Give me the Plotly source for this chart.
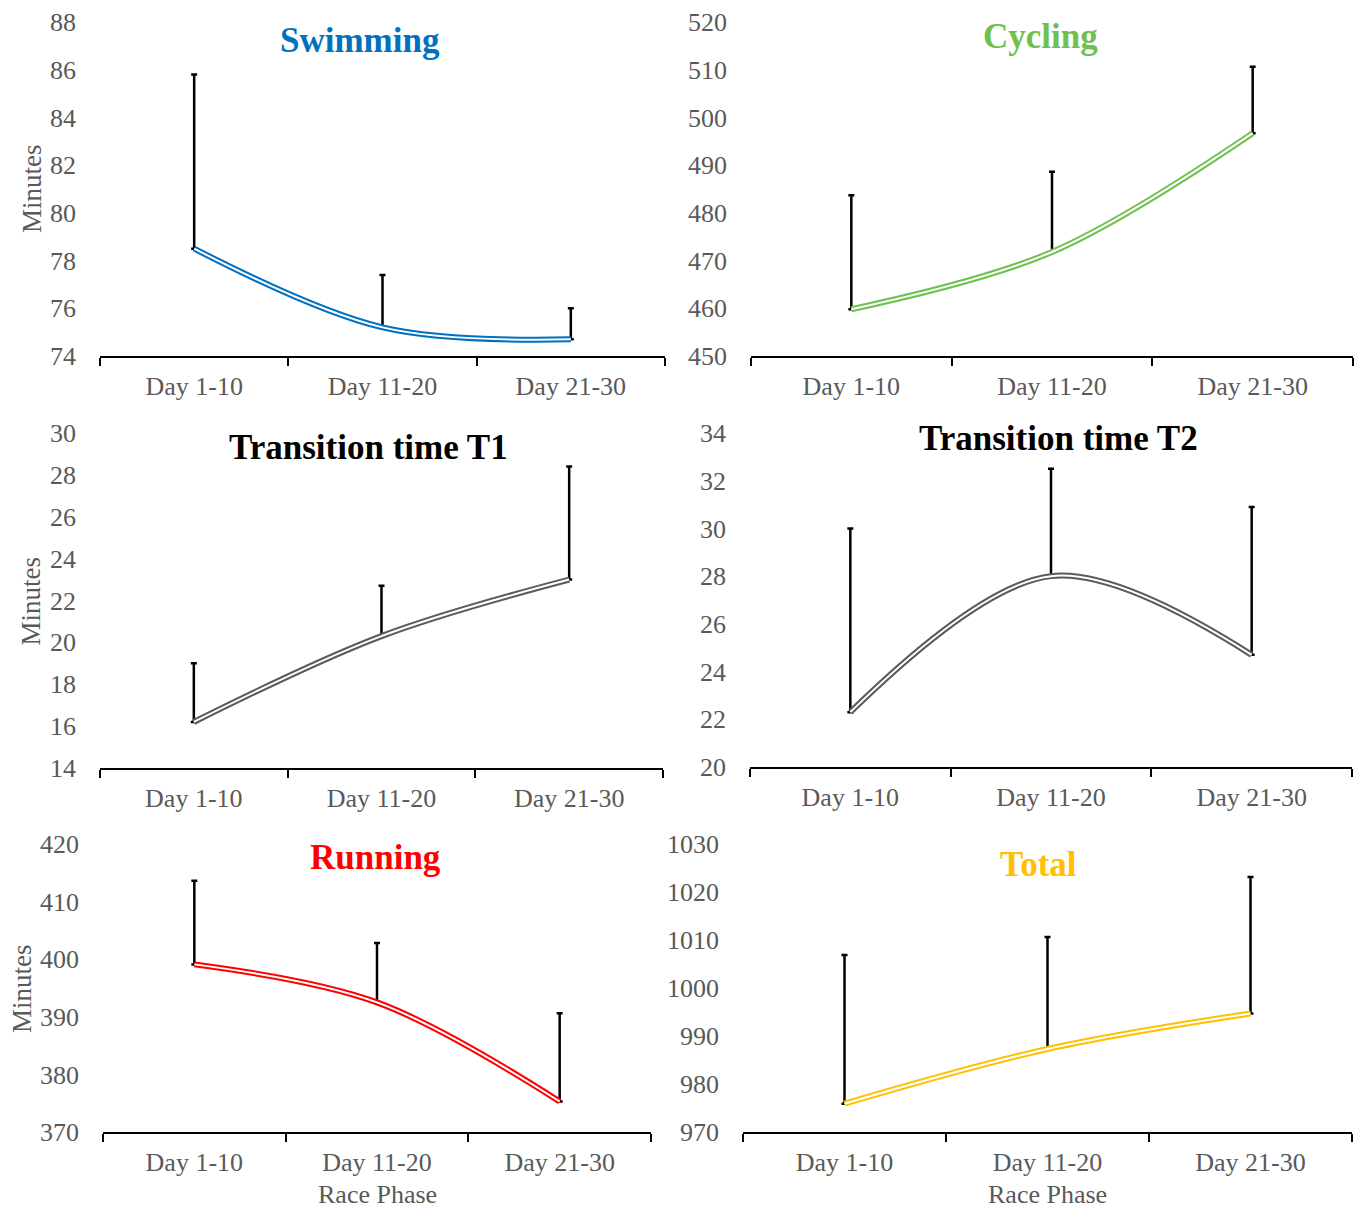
import plotly.graph_objects as go

W, H = 1355, 1211

# ---- data -------------------------------------------------------------
phases = ["Day 1-10", "Day 11-20", "Day 21-30"]

swim_mean = [78.5, 75.2, 74.7]
swim_sd = [7.3, 2.2, 1.3]

cycle_mean = [459.8, 471.8, 496.7]
cycle_sd = [23.9, 16.8, 13.9]

t1_mean = [16.2, 20.3, 23.0]
t1_sd = [2.8, 2.4, 5.4]

t2_mean = [22.3, 28.0, 24.7]
t2_sd = [7.7, 4.5, 6.2]

run_mean = [399.1, 392.5, 375.3]
run_sd = [14.5, 10.3, 15.3]

total_mean = [975.9, 987.3, 994.7]
total_sd = [31.0, 23.3, 28.4]

# ---- panel layout (pixel boxes: left, right, top, bottom) -------------
panels = [
    dict(name="Swimming", color="#0070C0", mean=swim_mean, sd=swim_sd,
         yr=(74, 88), dt=2, box=(100, 665, 22, 356), tpos=(360, 40), ylab=32, xlab=False),
    dict(name="Cycling", color="#70C04E", mean=cycle_mean, sd=cycle_sd,
         yr=(450, 520), dt=10, box=(751, 1353, 22, 356), tpos=(1040, 37), ylab=None, xlab=False),
    dict(name="Transition time T1", color="#5A5A5A", title_color="#000000", mean=t1_mean, sd=t1_sd,
         yr=(14, 30), dt=2, box=(100, 663, 433, 768), tpos=(368, 447), ylab=30, xlab=False),
    dict(name="Transition time T2", color="#5A5A5A", title_color="#000000", mean=t2_mean, sd=t2_sd,
         yr=(20, 34), dt=2, box=(750, 1352, 433, 767), tpos=(1058, 438), ylab=None, xlab=False),
    dict(name="Running", color="#FF0000", mean=run_mean, sd=run_sd,
         yr=(370, 420), dt=10, box=(103, 651, 844, 1132), tpos=(375, 857), ylab=22, xlab=True),
    dict(name="Total", color="#FFC000", mean=total_mean, sd=total_sd,
         yr=(970, 1030), dt=10, box=(743, 1352, 844, 1132), tpos=(1038, 864), ylab=None, xlab=True),
]

SERIF = "Liberation Serif"
GREY = "#595959"

fig = go.Figure()
annotations = []
layout = {}

for i, p in enumerate(panels, start=1):
    xa = "x" if i == 1 else f"x{i}"
    ya = "y" if i == 1 else f"y{i}"
    x0, x1, y0, y1 = p["box"]

    # upward-only SD whiskers
    fig.add_trace(go.Scatter(
        x=phases, y=p["mean"], mode="markers", xaxis=xa, yaxis=ya,
        marker=dict(size=1, color="rgba(0,0,0,0)"),
        error_y=dict(type="data", symmetric=False, array=p["sd"],
                     arrayminus=[0] * len(p["sd"]), color="black",
                     thickness=2.5, width=3),
        showlegend=False, hoverinfo="skip"))
    # double-stroke smoothed mean line
    fig.add_trace(go.Scatter(
        x=phases, y=p["mean"], mode="lines", xaxis=xa, yaxis=ya,
        line=dict(shape="spline", smoothing=1, color=p["color"], width=6),
        showlegend=False))
    fig.add_trace(go.Scatter(
        x=phases, y=p["mean"], mode="lines", xaxis=xa, yaxis=ya,
        line=dict(shape="spline", smoothing=1, color="white", width=2),
        showlegend=False, hoverinfo="skip"))

    key_x = "xaxis" if i == 1 else f"xaxis{i}"
    key_y = "yaxis" if i == 1 else f"yaxis{i}"
    layout[key_x] = dict(
        domain=[x0 / W, x1 / W], anchor=ya, type="category",
        range=[-0.5, 2.5], tickson="boundaries", ticks="outside",
        ticklen=8, tickwidth=2, tickcolor="black",
        showline=True, linecolor="black", linewidth=2,
        showgrid=False, zeroline=False, automargin=False,
        tickfont=dict(family=SERIF, size=26, color=GREY),
        ticklabelstandoff=6)
    layout[key_y] = dict(
        domain=[1 - y1 / H, 1 - y0 / H], anchor=xa,
        range=list(p["yr"]), tick0=p["yr"][0], dtick=p["dt"],
        showgrid=False, zeroline=False, showline=False, ticks="",
        automargin=False,
        tickfont=dict(family=SERIF, size=26, color=GREY),
        ticklabelstandoff=23)

    tx, ty = p["tpos"]
    annotations.append(dict(
        text=f"<b>{p['name']}</b>", x=tx / W, y=1 - ty / H,
        xref="paper", yref="paper", showarrow=False,
        xanchor="center", yanchor="middle",
        font=dict(family=SERIF, size=35, color=p.get("title_color", p["color"]))))
    if p["ylab"] is not None:
        annotations.append(dict(
            text="Minutes", x=p["ylab"] / W, y=1 - ((y0 + y1) / 2) / H,
            xref="paper", yref="paper", showarrow=False, textangle=-90,
            xanchor="center", yanchor="middle",
            font=dict(family=SERIF, size=27, color=GREY)))
    if p["xlab"]:
        annotations.append(dict(
            text="Race Phase", x=((x0 + x1) / 2) / W, y=1 - 1194 / H,
            xref="paper", yref="paper", showarrow=False,
            xanchor="center", yanchor="middle",
            font=dict(family=SERIF, size=26, color=GREY)))

fig.update_layout(
    width=W, height=H, margin=dict(l=0, r=0, t=0, b=0, autoexpand=False),
    paper_bgcolor="white", plot_bgcolor="white",
    annotations=annotations, **layout)

fig.write_html("out.html")
